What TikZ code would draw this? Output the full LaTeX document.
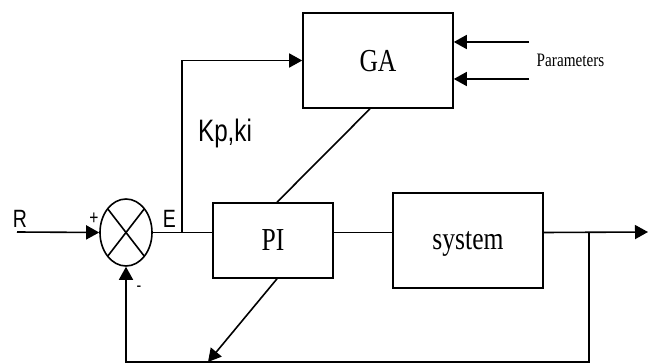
\documentclass[tikz,border=0pt]{standalone}
\usepackage{fontspec}
\usetikzlibrary{arrows.meta,shapes.geometric}
\newfontfamily\serifc[FakeStretch=0.8]{Liberation Serif}
\newfontfamily\sansc[FakeStretch=0.78]{Liberation Sans}
\tikzset{
  block/.style={draw,line width=1.6pt,inner sep=0pt,text depth=0pt,
    font=\serifc\fontsize{32}{32}\selectfont},
  wire/.style={line width=1.6pt},
  arrowwire/.style={line width=1.6pt,-{Triangle[length=13pt,width=14pt]}},
  sanslabel/.style={inner sep=0pt,anchor=base,font=\sansc\fontsize{25}{25}\selectfont}
}
\begin{document}
\begin{tikzpicture}[x=1pt,y=-1pt]
\useasboundingbox (0,0) rectangle (648,363);

% blocks
\node[block,minimum width=150pt,minimum height=95pt] (ga) at (378,60.5) {GA};
\node[block,minimum width=120pt,minimum height=75pt] (pi) at (273,240.5) {PI};
\node[block,minimum width=150pt,minimum height=95pt] (sys) at (468,240.5) {system};

% summing junction
\node[draw,ellipse,line width=1.6pt,minimum width=52pt,minimum height=67pt,inner sep=0pt] (sum) at (126,232.5) {};
\draw[wire] (107.6,208.7) -- (144.4,256.3);
\draw[wire] (144.4,208.7) -- (107.6,256.3);

% helper points
\coordinate (rin) at (17,232);
\coordinate (ejunc) at (182,232);
\coordinate (ecorner) at (182,60.5);
\coordinate (p1) at (529,42);
\coordinate (p2) at (529,79);
\coordinate (out) at (648,232);
\coordinate (tap) at (589,232);
\coordinate (fbr) at (589,362);
\coordinate (fbl) at (126,362);
\coordinate (pitip) at (208,362);

% signal path
\draw[arrowwire] (rin) -- (sum.west);
\draw[wire] (sum.east) -- (sum.east -| pi.west);
\draw[wire] (sum.east -| pi.east) -- (sum.east -| sys.west);
\draw[arrowwire] (sum.east -| sys.east) -- (out);

% feedback
\draw[arrowwire] (tap) -- (fbr) -- (fbl) -- (sum.south);

% error to GA
\draw[arrowwire] (ejunc) -- (ecorner) -- (ga.west);

% parameter inputs
\draw[arrowwire] (p1) -- (p1 -| ga.east);
\draw[arrowwire] (p2) -- (p2 -| ga.east);

% GA tunes PI, PI output
\draw[wire] ([xshift=-8pt]ga.south) -- ([xshift=4pt]pi.north);
\draw[arrowwire] ([xshift=4pt]pi.south) -- (pitip);

% labels
\node[inner sep=0pt,anchor=base,font=\serifc\fontsize{19}{19}\selectfont] (par) at (570.5,67) {Parameters};
\node[sanslabel,font=\sansc\fontsize{31}{31}\selectfont] (gains) at (225,142) {Kp,ki};
\node[sanslabel] (rlab) at (20,228) {R};
\node[sanslabel] (elab) at (169.5,228) {E};
\node[sanslabel,font=\sansc\fontsize{20}{20}\selectfont] (plus) at (94,225) {+};
\node[sanslabel,font=\sansc\fontsize{18}{18}\selectfont] (minus) at (139,292) {-};
\end{tikzpicture}
\end{document}
